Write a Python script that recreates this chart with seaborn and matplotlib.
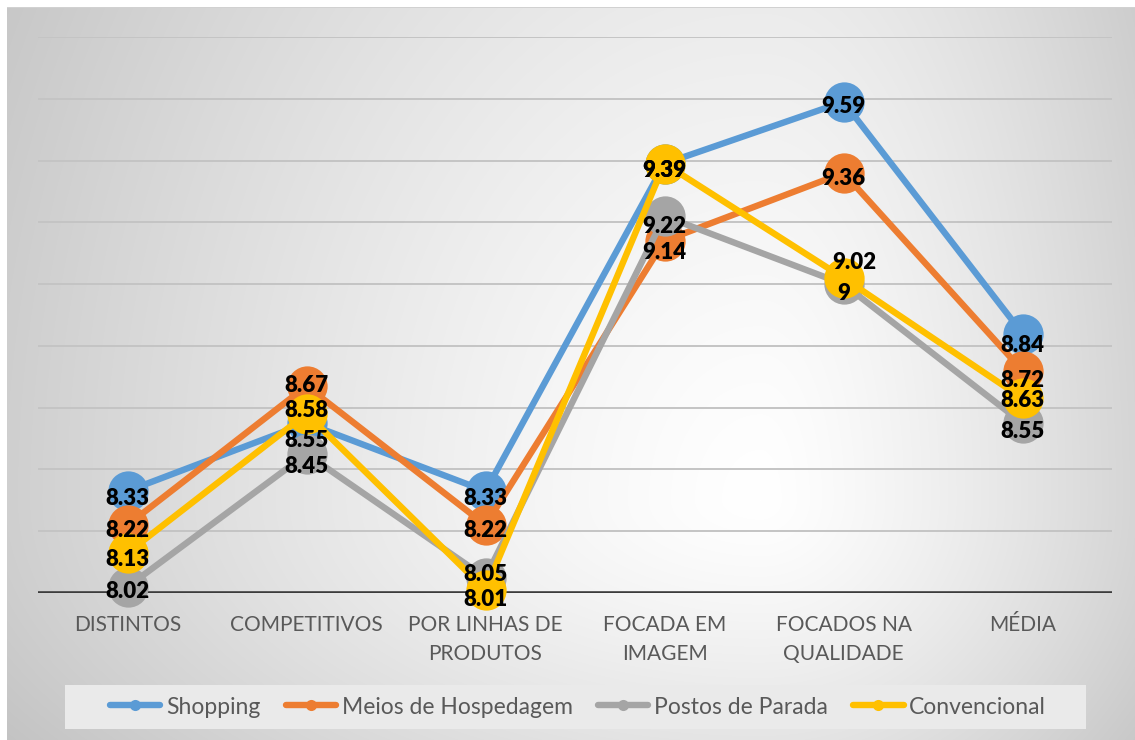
import numpy as np
import pandas as pd
import matplotlib
matplotlib.use("Agg")
import matplotlib.pyplot as plt
from matplotlib.lines import Line2D
from matplotlib.patches import Rectangle
from matplotlib import font_manager
import seaborn as sns

# ---- data -------------------------------------------------------------
categorias = ["DISTINTOS", "COMPETITIVOS", "POR LINHAS DE\nPRODUTOS",
              "FOCADA EM\nIMAGEM", "FOCADOS NA\nQUALIDADE", "MÉDIA"]
series = ["Shopping", "Meios de Hospedagem", "Postos de Parada", "Convencional"]
shopping = [8.33, 8.55, 8.33, 9.39, 9.59, 8.84]
meios_hospedagem = [8.22, 8.67, 8.22, 9.14, 9.36, 8.72]
postos_parada = [8.02, 8.45, 8.05, 9.22, 9.00, 8.55]
convencional = [8.13, 8.58, 8.01, 9.39, 9.02, 8.63]
rotulos = ["8.33", "8.55", "8.33", "9.39", "9.59", "8.84",
           "8.22", "8.67", "8.22", "9.14", "9.36", "8.72",
           "8.02", "8.45", "8.05", "9.22", "9", "8.55",
           "8.13", "8.58", "8.01", "9.39", "9.02", "8.63"]

cores = ["#5B9BD5", "#ED7D31", "#A5A5A5", "#FFC000"]

# label nudges (pixels: dx, dy-down) so stacked labels stay readable
nudges = {
    "Shopping":            [(0, 5), (0, 15), (0, 5), (0, 5), (0, 3), (0, 10)],
    "Meios de Hospedagem": [(0, 3), (0, -3), (0, 3), (0, 10), (0, 4), (0, 8)],
    "Postos de Parada":    [(0, 3), (0, 10), (0, -5), (0, 8), (0, 7), (0, 6)],
    "Convencional":        [(0, 5), (0, -5), (0, 8), (0, 5), (11, -18), (0, 0)],
}

valores = [shopping, meios_hospedagem, postos_parada, convencional]
df = pd.DataFrame({
    "categoria": categorias * len(series),
    "serie": np.repeat(series, len(categorias)),
    "valor": np.concatenate(valores),
    "rotulo": rotulos,
})

# ---- fonts ------------------------------------------------------------
disponiveis = {f.name for f in font_manager.fontManager.ttflist}
fonte = "Lato" if "Lato" in disponiveis else "Liberation Sans"

sns.set_theme(style="white")
plt.rcParams["font.family"] = [fonte, "DejaVu Sans"]

W, H = 1135, 740
fig = plt.figure(figsize=(W / 100, H / 100), dpi=100)

# ---- soft radial background ------------------------------------------
bg = fig.add_axes([0, 0, 1, 1], zorder=-10)
yy, xx = np.mgrid[0:H, 0:W]
cx, cy = 760, 500
rx = np.where(xx < cx, 760.0, 420.0)
ry = np.where(yy < cy, 1000.0, 380.0)
d = np.sqrt(((xx - cx) / rx) ** 2 + ((yy - cy) / ry) ** 2)
v = 1 - 0.19 * np.clip(d, 0, 1.2) ** 1.3
img = np.dstack([v, v, v])
img[:7, :, :] = 1.0
img[:, :7, :] = 1.0
img[7, 7:, :] = 0.82
bg.imshow(img, extent=[0, W, H, 0], aspect="auto", interpolation="bilinear")
bg.set_xlim(0, W)
bg.set_ylim(H, 0)
bg.axis("off")

# legend panel
fig.patches.append(Rectangle((65 / W, (H - 729) / H), 1021 / W, 44 / H,
                             transform=fig.transFigure, facecolor="#eaeaea",
                             edgecolor="none", zorder=-5))

# ---- main plot --------------------------------------------------------
x0, x1 = 38, 1112
y_base, y_top = 593, 37
ax = fig.add_axes([x0 / W, (H - y_base) / H, (x1 - x0) / W, (y_base - y_top) / H])
ax.set_facecolor("none")

sns.lineplot(data=df, x="categoria", y="valor", hue="serie", hue_order=series,
             palette=cores, sort=False, marker="o", markersize=29,
             markeredgewidth=0, linewidth=4.6, legend=False, ax=ax, zorder=3)
for ln in ax.lines:
    ln.set_clip_on(False)
    ln.set_solid_capstyle("round")

ax.set_xlim(-0.5, len(categorias) - 0.5)
ax.set_ylim(8.0, 9.8)
ax.set_yticks(np.arange(8.0, 9.81, 0.2))
ax.set_yticklabels([])
ax.yaxis.grid(True, color="#c4c4c4", linewidth=1.4, zorder=0)
ax.xaxis.grid(False)
ax.set_axisbelow(True)
ax.axhline(8.0, color="#3c3c3c", linewidth=2.6, zorder=1.5)
for s in ax.spines.values():
    s.set_visible(False)
ax.set_xlabel("")
ax.set_ylabel("")
ax.set_xticks(range(len(categorias)))
ax.set_xticklabels(categorias, fontsize=15, color="#595959", linespacing=1.55)
ax.tick_params(axis="x", length=0, pad=16)
ax.tick_params(axis="y", length=0)

# data labels
for _, r in df.iterrows():
    i = categorias.index(r["categoria"])
    dx, dy = nudges[r["serie"]][i]
    ax.annotate(r["rotulo"], (i, r["valor"]), xytext=(dx * 0.72, -dy * 0.72 - 1.5),
                textcoords="offset points", ha="center", va="center",
                fontsize=16, fontweight="heavy", color="black", zorder=10,
                annotation_clip=False)

# legend
handles = [Line2D([0], [0], color=c, linewidth=4.6, marker="o", markersize=8,
                  markeredgewidth=0) for c in cores]
leg = fig.legend(handles, series, loc="center", bbox_to_anchor=(578 / W, (H - 707) / H),
                 ncol=4, frameon=False, fontsize=16.5,
                 handlelength=2.2, handletextpad=0.25, columnspacing=1.1,
                 labelcolor="#595959")

fig.savefig("out.png", dpi=100)
